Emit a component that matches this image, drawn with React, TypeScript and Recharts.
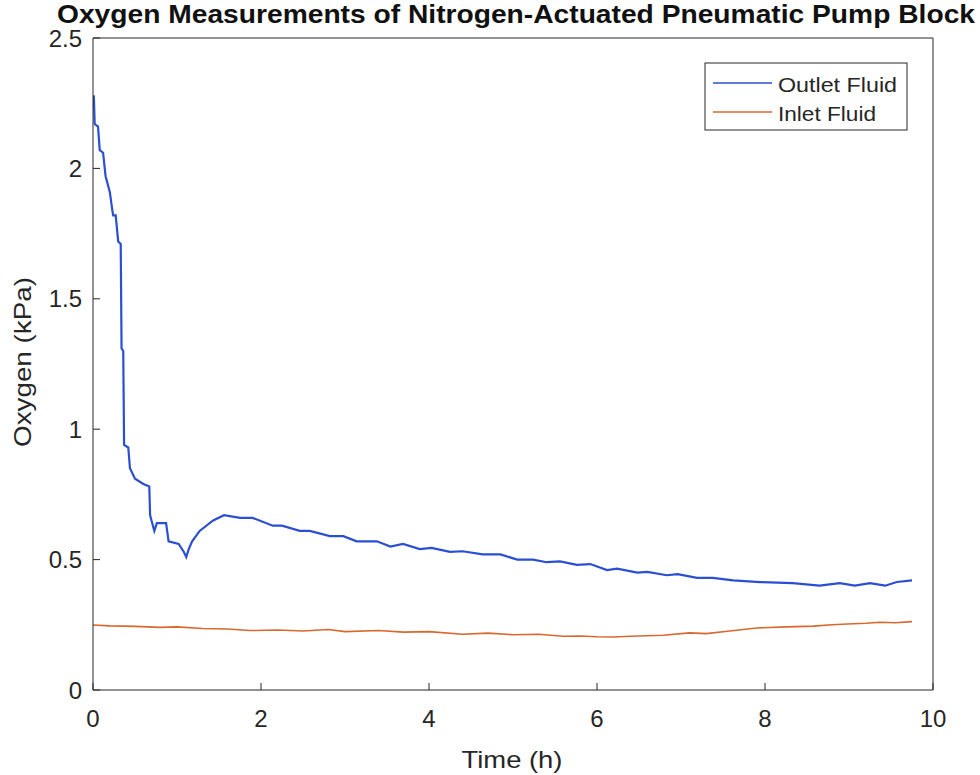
import { LineChart, Line, XAxis, YAxis } from "recharts";

const outletTime = [
  0.01, 0.02, 0.06, 0.08, 0.12, 0.15, 0.2, 0.23, 0.24, 0.27, 0.3, 0.33, 0.34, 0.36, 0.37, 0.42,
  0.44, 0.5, 0.6, 0.67, 0.68, 0.73, 0.76, 0.87, 0.9, 1.02, 1.08, 1.11, 1.14, 1.18, 1.27, 1.43,
  1.56, 1.75, 1.9, 2.14, 2.25, 2.46, 2.58, 2.82, 2.98, 3.14, 3.38, 3.54, 3.69, 3.89, 4.03, 4.25,
  4.4, 4.64, 4.85, 5.05, 5.24, 5.4, 5.56, 5.76, 5.92, 6.12, 6.24, 6.48, 6.6, 6.83, 6.96, 7.19,
  7.38, 7.62, 7.94, 8.33, 8.65, 8.89, 9.07, 9.25, 9.43, 9.57, 9.75,
];
const outletOxygen = [
  2.28, 2.17, 2.16, 2.07, 2.06, 1.97, 1.91, 1.84, 1.82, 1.82, 1.72, 1.71, 1.31, 1.3, 0.94, 0.93,
  0.85, 0.81, 0.79, 0.78, 0.67, 0.61, 0.64, 0.64, 0.57, 0.56, 0.53, 0.51, 0.54, 0.57, 0.61, 0.65,
  0.67, 0.66, 0.66, 0.63, 0.63, 0.61, 0.61, 0.59, 0.59, 0.57, 0.57, 0.55, 0.56, 0.54, 0.545, 0.53,
  0.532, 0.52, 0.52, 0.5, 0.5, 0.49, 0.493, 0.48, 0.483, 0.46, 0.465, 0.45, 0.453, 0.44, 0.444, 0.43,
  0.43, 0.42, 0.414, 0.41, 0.4, 0.41, 0.4, 0.41, 0.4, 0.414, 0.42,
];

const inletTime = [
  0.0, 0.2, 0.5, 0.8, 1.0, 1.3, 1.6, 1.87, 2.2, 2.5, 2.8, 3.0, 3.4, 3.7, 4.0, 4.4, 4.7, 5.0,
  5.3, 5.6, 5.8, 6.0, 6.19, 6.4, 6.79, 7.1, 7.3, 7.58, 7.9, 8.26, 8.57, 8.8, 8.98, 9.2, 9.37,
  9.55, 9.75,
];
const inletOxygen = [
  0.249, 0.246, 0.244, 0.24, 0.242, 0.236, 0.234, 0.228, 0.23, 0.226, 0.232, 0.224, 0.228, 0.222,
  0.224, 0.214, 0.218, 0.212, 0.214, 0.206, 0.207, 0.204, 0.203, 0.206, 0.21, 0.219, 0.216, 0.226,
  0.238, 0.242, 0.245, 0.25, 0.253, 0.256, 0.26, 0.258, 0.262,
];

const xTicks = [0, 2, 4, 6, 8, 10];
const yTicks = [0, 0.5, 1, 1.5, 2, 2.5];
const seriesNames = ["Outlet Fluid", "Inlet Fluid"];
const seriesColors = ["#2a4fd3", "#d8682e"];

const outletData = outletTime.map((t, i) => ({ time: t, oxygen: outletOxygen[i] }));
const inletData = inletTime.map((t, i) => ({ time: t, oxygen: inletOxygen[i] }));

const FONT = "Liberation Sans, Arial, Helvetica, sans-serif";
const AXIS = "#262626";
const tickStyle = { fontSize: 24, fill: AXIS, fontFamily: FONT };

function YLabel() {
  return (
    <text
      x={22}
      y={362}
      transform="rotate(-90, 22, 362)"
      textAnchor="middle"
      dominantBaseline="central"
      fontSize={24}
      textLength={170}
      lengthAdjust="spacingAndGlyphs"
      fill={AXIS}
      fontFamily={FONT}
    >
      Oxygen (kPa)
    </text>
  );
}

function XLabel() {
  return (
    <text
      x={512}
      y={759}
      textAnchor="middle"
      dominantBaseline="central"
      fontSize={24}
      textLength={101}
      lengthAdjust="spacingAndGlyphs"
      fill={AXIS}
      fontFamily={FONT}
    >
      Time (h)
    </text>
  );
}

export default function App() {
  return (
    <div style={{ position: "absolute", left: 0, top: 0, width: 980, height: 775, background: "#fff" }}>
      <LineChart width={980} height={775} margin={{ top: 37, right: 46, bottom: 0, left: 0 }}>
        <XAxis
          dataKey="time"
          type="number"
          domain={[0, 10]}
          ticks={xTicks}
          height={85}
          tickSize={-7}
          tickMargin={27}
          tick={tickStyle}
          stroke={AXIS}
          allowDataOverflow
          label={<XLabel />}
        />
        <XAxis
          xAxisId="top"
          orientation="top"
          type="number"
          domain={[0, 10]}
          ticks={xTicks}
          height={1}
          tickSize={-7}
          tick={false}
          stroke={AXIS}
        />
        <YAxis
          type="number"
          domain={[0, 2.5]}
          ticks={yTicks}
          width={93}
          tickSize={-7}
          tickMargin={18}
          tick={tickStyle}
          stroke={AXIS}
          allowDataOverflow
          label={<YLabel />}
        />
        <YAxis
          yAxisId="right"
          orientation="right"
          type="number"
          domain={[0, 2.5]}
          ticks={yTicks}
          width={1}
          tickSize={-7}
          tick={false}
          stroke={AXIS}
        />
        <Line
          data={outletData}
          dataKey="oxygen"
          name={seriesNames[0]}
          type="linear"
          stroke={seriesColors[0]}
          strokeWidth={2.2}
          dot={false}
          isAnimationActive={false}
        />
        <Line
          data={inletData}
          dataKey="oxygen"
          name={seriesNames[1]}
          type="linear"
          stroke={seriesColors[1]}
          strokeWidth={1.6}
          dot={false}
          isAnimationActive={false}
        />
      </LineChart>

      <svg width={980} height={36} style={{ position: "absolute", left: 0, top: 0, pointerEvents: "none" }}>
        <text
          x={57}
          y={23}
          textLength={918}
          lengthAdjust="spacingAndGlyphs"
          fontSize={26}
          fontWeight="bold"
          fill="#111"
          fontFamily={FONT}
        >
          Oxygen Measurements of Nitrogen-Actuated Pneumatic Pump Block
        </text>
      </svg>

      <svg width={204} height={69} style={{ position: "absolute", left: 704, top: 62, pointerEvents: "none" }}>
        <rect x={1} y={1} width={202} height={67} fill="#fff" stroke={AXIS} strokeWidth={1} />
        {seriesNames.map((n, i) => (
          <g key={n}>
            <line x1={9} x2={68} y1={21 + i * 29} y2={21 + i * 29} stroke={seriesColors[i]} strokeWidth={1.5} />
            <text
              x={74}
              y={30 + i * 29}
              fontSize={21}
              textLength={i === 0 ? 119 : 98}
              lengthAdjust="spacingAndGlyphs"
              fill={AXIS}
              fontFamily={FONT}
            >
              {n}
            </text>
          </g>
        ))}
      </svg>
    </div>
  );
}
